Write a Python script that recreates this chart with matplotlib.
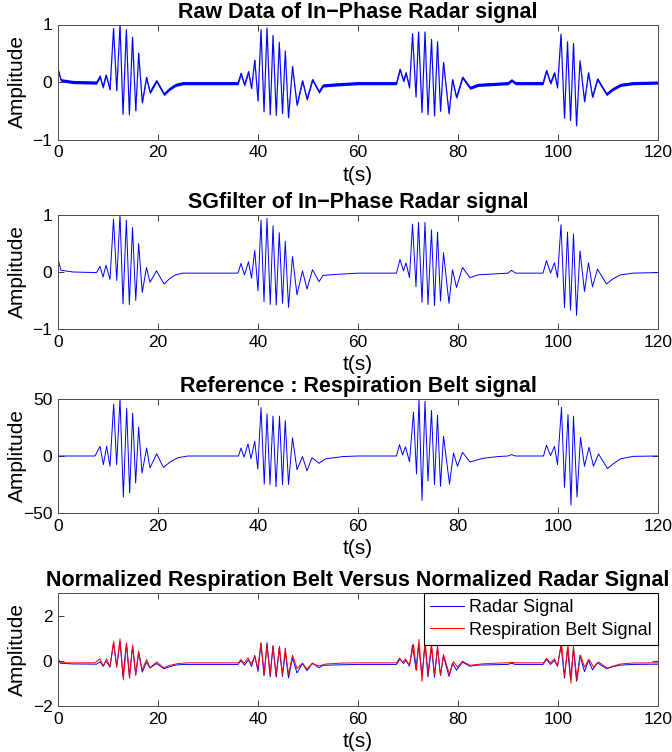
import numpy as np
import matplotlib
matplotlib.use("Agg")
from matplotlib import pyplot as plt

# in-phase radar signal, turning points: (t [s], amplitude)
radar_pts = [
    (0.0, 0.22), (0.6, 0.03), (3.0, 0.0), (7.7, -0.01),
    (8.4, 0.10), (9.0, -0.09), (9.6, 0.12), (10.4, -0.13), (11.1, 0.93), (11.75, -0.15),
    (12.4, 1.00), (13.0, -0.56), (13.67, 0.91), (14.27, -0.57), (14.9, 0.78), (15.55, -0.50),
    (16.13, 0.50), (16.85, -0.36), (17.7, 0.08), (18.4, -0.18), (19.7, 0.02), (21.2, -0.21),
    (22.3, -0.12), (23.5, -0.05), (25.0, -0.02), (30.0, -0.02), (36.0, -0.02),
    (36.6, 0.15), (37.3, -0.05), (38.1, 0.18), (38.7, -0.11), (39.35, 0.38), (40.0, -0.33),
    (40.6, 0.91), (41.2, -0.52), (41.8, 0.94), (42.45, -0.57), (43.0, 0.81), (43.65, -0.58),
    (44.25, 0.69), (44.9, -0.55), (45.45, 0.54), (46.1, -0.62), (46.9, 0.27), (47.8, -0.40),
    (48.9, 0.02), (49.8, -0.30), (50.9, 0.04), (52.2, -0.17), (53.0, -0.06), (56.0, -0.04),
    (60.0, -0.02), (67.7, -0.02),
    (68.4, 0.22), (69.1, 0.02), (69.6, 0.16), (70.3, -0.10), (70.9, 0.84), (71.6, -0.26),
    (72.1, 0.87), (72.8, -0.53), (73.4, 0.87), (74.0, -0.57), (74.7, 0.74), (75.3, -0.59),
    (75.9, 0.70), (76.5, -0.51), (77.1, 0.34), (78.2, -0.55), (78.9, 0.04), (79.7, -0.27),
    (80.9, 0.08), (82.4, -0.10), (84.0, -0.05), (88.0, -0.03), (90.0, -0.02), (90.7, 0.03),
    (91.5, -0.02), (97.0, -0.02),
    (97.7, 0.20), (98.5, -0.02), (99.3, 0.16), (99.9, -0.10), (100.6, 0.83), (101.3, -0.63),
    (101.9, 0.70), (102.5, -0.67), (103.1, 0.67), (103.7, -0.76), (104.4, 0.37), (105.3, -0.34),
    (106.1, 0.16), (106.9, -0.26), (107.9, 0.05), (109.7, -0.21), (111.0, -0.12), (112.5, -0.05),
    (115.0, -0.02), (120.0, -0.01),
]

# respiration belt reference: (t [s], amplitude)
belt_pts = [
    (0.0, 0.0), (7.4, 0.0),
    (8.4, 8.5), (9.07, -7.6), (9.73, 8.5), (10.4, -9.0), (11.13, 45.6), (11.73, -7.6),
    (12.4, 50.0), (13.07, -36.0), (13.73, 42.0), (14.33, -32.5), (14.93, 37.7), (15.53, -23.7),
    (16.13, 25.4), (16.8, -15.0), (17.73, 7.0), (18.4, -10.5), (19.73, 2.0), (21.07, -10.0),
    (22.5, -5.0), (24.0, -1.5), (26.0, 0.0), (36.1, 0.0),
    (36.6, 7.0), (37.2, -1.0), (38.0, 10.5), (38.6, -2.3), (39.35, 13.0), (39.95, -11.5),
    (40.6, 42.5), (41.25, -24.6), (41.8, 37.0), (42.4, -25.0), (43.0, 35.0), (43.6, -27.0),
    (44.3, 35.0), (44.9, -25.0), (45.45, 31.0), (46.1, -25.0), (46.9, 16.0), (47.8, -12.0),
    (48.9, -0.5), (49.8, -13.0), (50.8, -1.5), (52.2, -6.4), (53.5, -2.5), (57.0, -0.5),
    (60.0, 0.0), (67.7, 0.0),
    (68.3, 10.0), (68.9, 1.0), (69.5, 8.0), (70.3, -5.0), (71.1, 38.6), (71.7, -15.8),
    (72.2, 49.4), (72.8, -38.9), (73.4, 48.0), (74.0, -22.0), (74.7, 40.0), (75.3, -25.0),
    (75.9, 35.7), (76.5, -26.6), (77.1, 17.3), (78.3, -24.6), (79.1, 2.6), (79.9, -9.0),
    (80.9, 3.2), (82.4, -5.3), (85.0, -2.0), (88.0, -0.5), (90.0, 0.0), (90.7, 1.2),
    (91.5, 0.0), (97.1, 0.0),
    (97.7, 9.4), (98.5, 0.3), (99.3, 8.5), (99.9, -7.6), (100.7, 42.7), (101.3, -27.5),
    (102.0, 36.3), (102.6, -43.0), (103.1, 35.0), (103.8, -36.0), (104.5, 16.4), (105.3, -9.0),
    (106.2, 7.6), (107.1, -9.0), (108.1, 1.8), (109.9, -11.0), (111.0, -7.0), (112.5, -2.5),
    (115.0, -0.3), (120.0, 0.0),
]

# normalisation seen in the bottom panel
RADAR_GAIN, RADAR_SHIFT = 1.0, -0.14
BELT_GAIN, BELT_SHIFT = 1.05 / 50.0, -0.09
RAW_NOISE = 0.028   # half width of the noise band on the raw trace

titles = [
    "Raw Data of In\u2212Phase Radar signal",
    "SGfilter of In\u2212Phase Radar signal",
    "Reference : Respiration Belt signal",
    "Normalized Respiration Belt Versus Normalized Radar Signal",
]
y_lims = [(-1, 1), (-1, 1), (-50, 50), (-2, 3)]
y_ticks = [[-1, 0, 1], [-1, 0, 1], [-50, 0, 50], [-2, 0, 2]]
x_ticks = [0, 20, 40, 60, 80, 100, 120]
legend_labels = ["Radar Signal", "Respiration Belt Signal"]

rt, rv = np.array(radar_pts).T
bt, bv = np.array(belt_pts).T

plt.rcParams["font.family"] = ["Liberation Sans", "DejaVu Sans"]

W, H = 672, 752
fig = plt.figure(figsize=(W / 100, H / 100), dpi=100)

# axes boxes in pixels (top, bottom)
boxes = [(24.5, 139.5), (215, 329), (399, 513), (593, 706)]
left, right = 58, 658

axes = []
for i, (top, bot) in enumerate(boxes):
    ax = fig.add_axes([left / W, 1 - bot / H, (right - left) / W, (bot - top) / H])
    axes.append(ax)

ax = axes[0]
ax.fill_between(rt, rv - RAW_NOISE, rv + RAW_NOISE, color="blue", lw=0)
ax.plot(rt, rv, color="blue", lw=0.8)

axes[1].plot(rt, rv, color="blue", lw=0.7)
axes[2].plot(bt, bv, color="blue", lw=0.7)

ax = axes[3]
ax.plot(rt, rv * RADAR_GAIN + RADAR_SHIFT, color="blue", lw=0.7, label=legend_labels[0])
ax.plot(bt, bv * BELT_GAIN + BELT_SHIFT, color="red", lw=0.7, label=legend_labels[1])
leg = ax.legend(loc="upper right", borderaxespad=0, fontsize=13, fancybox=False,
                framealpha=1, edgecolor="black", handlelength=1.9, handletextpad=0.25,
                borderpad=0.35, labelspacing=0.3)
leg.get_frame().set_linewidth(0.8)

for i, ax in enumerate(axes):
    ax.set_xlim(0, 120)
    ax.set_ylim(*y_lims[i])
    ax.set_xticks(x_ticks)
    ax.set_yticks(y_ticks[i])
    ax.tick_params(direction="in", length=4, width=0.7, top=True, right=True,
                   labelsize=12.5, pad=4, color="0.25")
    for s in ax.spines.values():
        s.set_color("0.3")
        s.set_linewidth(0.7)
    ax.set_title(titles[i], fontsize=15.5, fontweight="bold", pad=5)
    ax.set_xlabel("t(s)", fontsize=15, labelpad=4)
    ax.set_ylabel("Amplitude", fontsize=15)
    ax.yaxis.set_label_coords((27 - left) / (right - left), 0.5)

fig.savefig("out.png", dpi=100)
